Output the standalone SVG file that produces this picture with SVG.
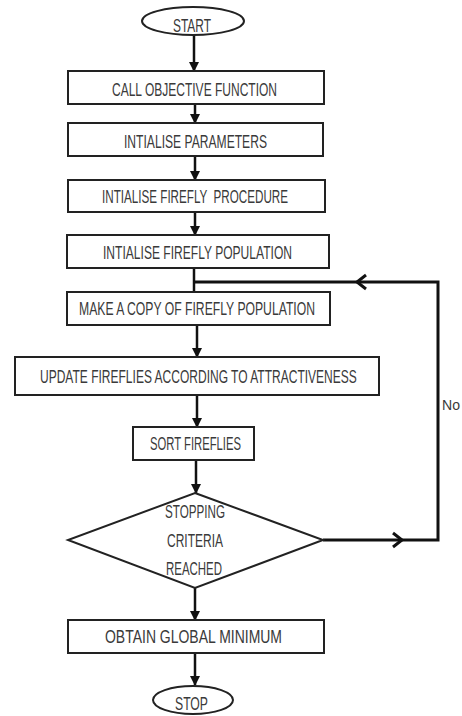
<svg xmlns="http://www.w3.org/2000/svg" width="462" height="716" viewBox="0 0 462 716">
<defs>
<style>
.box{fill:#fff;stroke:#222;stroke-width:2}
.t{font-family:"Liberation Sans","DejaVu Sans",sans-serif;font-size:18px;fill:#3a3a3a;text-anchor:start}
.c{fill:none;stroke:#111;stroke-width:2.5}
.loop{fill:none;stroke:#111;stroke-width:3}
</style>
<marker id="ah" viewBox="0 0 10 10" refX="9" refY="5" markerWidth="4" markerHeight="4" orient="auto" markerUnits="strokeWidth">
<path d="M0,0 L10,5 L0,10 Z" fill="#111"/>
</marker>
</defs>
<rect width="462" height="716" fill="#fff"/>
<g id="connectors">
<line class="c" x1="194" y1="35" x2="194" y2="71" marker-end="url(#ah)"/>
<line class="c" x1="195" y1="104" x2="195" y2="123" marker-end="url(#ah)"/>
<line class="c" x1="195" y1="156" x2="195" y2="180" marker-end="url(#ah)"/>
<line class="c" x1="195" y1="212" x2="195" y2="235" marker-end="url(#ah)"/>
<line class="c" x1="194" y1="268" x2="194" y2="292"/>
<line class="c" x1="197" y1="325" x2="197" y2="357" marker-end="url(#ah)"/>
<line class="c" x1="197" y1="395" x2="197" y2="427" marker-end="url(#ah)"/>
<line class="c" x1="196" y1="460" x2="196" y2="493" marker-end="url(#ah)"/>
<line class="c" x1="195" y1="588" x2="195" y2="620" marker-end="url(#ah)"/>
<line class="c" x1="195" y1="653" x2="195" y2="685" marker-end="url(#ah)"/>
<polyline class="loop" points="323,540 438,540 438,282 194,282"/>
<polyline class="loop" points="393,533 402,540 393,547"/>
<polyline class="loop" points="366,275 357,282 366,289"/>
<text class="t" x="442" y="410" style="font-size:14px" textLength="18" lengthAdjust="spacingAndGlyphs">No</text>
</g>
<g id="start">
<ellipse cx="193" cy="21" rx="51" ry="14" fill="#fff" stroke="#222" stroke-width="2"/>
<text class="t" x="173" y="32" textLength="38" lengthAdjust="spacingAndGlyphs">START</text>
</g>
<g id="call">
<rect class="box" x="68" y="71" width="256" height="33"/>
<text class="t" x="112" y="96" textLength="165" lengthAdjust="spacingAndGlyphs">CALL OBJECTIVE FUNCTION</text>
</g>
<g id="params">
<rect class="box" x="68" y="123" width="255" height="33"/>
<text class="t" x="124" y="148" textLength="143" lengthAdjust="spacingAndGlyphs">INTIALISE PARAMETERS</text>
</g>
<g id="procedure">
<rect class="box" x="68" y="180" width="257" height="32"/>
<text class="t" x="102" y="203" textLength="186" lengthAdjust="spacingAndGlyphs" xml:space="preserve">INTIALISE FIREFLY  PROCEDURE</text>
</g>
<g id="population">
<rect class="box" x="67" y="235" width="262" height="33"/>
<text class="t" x="103" y="259" textLength="189" lengthAdjust="spacingAndGlyphs">INTIALISE FIREFLY POPULATION</text>
</g>
<g id="copy">
<rect class="box" x="67" y="292" width="263" height="33"/>
<text class="t" x="79" y="315" textLength="236" lengthAdjust="spacingAndGlyphs">MAKE A COPY OF FIREFLY POPULATION</text>
</g>
<g id="update">
<rect class="box" x="15" y="357" width="364" height="38"/>
<text class="t" transform="translate(40,383) scale(0.72,1)" x="0" y="0" textLength="440" lengthAdjust="spacingAndGlyphs">UPDATE FIREFLIES ACCORDING TO ATTRACTIVENESS</text>
</g>
<g id="sort">
<rect class="box" x="133" y="427" width="121" height="33"/>
<text class="t" x="150" y="450" textLength="91" lengthAdjust="spacingAndGlyphs">SORT FIREFLIES</text>
</g>
<g id="decision">
<polygon points="195,493 323,540 195,588 68,540" fill="#fff" stroke="#222" stroke-width="2"/>
<text class="t" x="165" y="518" textLength="60" lengthAdjust="spacingAndGlyphs">STOPPING</text>
<text class="t" x="167" y="547" textLength="56" lengthAdjust="spacingAndGlyphs">CRITERIA</text>
<text class="t" x="166" y="575" textLength="56" lengthAdjust="spacingAndGlyphs">REACHED</text>
</g>
<g id="obtain">
<rect class="box" x="68" y="620" width="256" height="33"/>
<text class="t" x="105" y="643" textLength="177" lengthAdjust="spacingAndGlyphs">OBTAIN GLOBAL MINIMUM</text>
</g>
<g id="stop">
<ellipse cx="193" cy="700" rx="40" ry="14" fill="#fff" stroke="#222" stroke-width="2"/>
<text class="t" x="175" y="710" textLength="33" lengthAdjust="spacingAndGlyphs">STOP</text>
</g>
</svg>
